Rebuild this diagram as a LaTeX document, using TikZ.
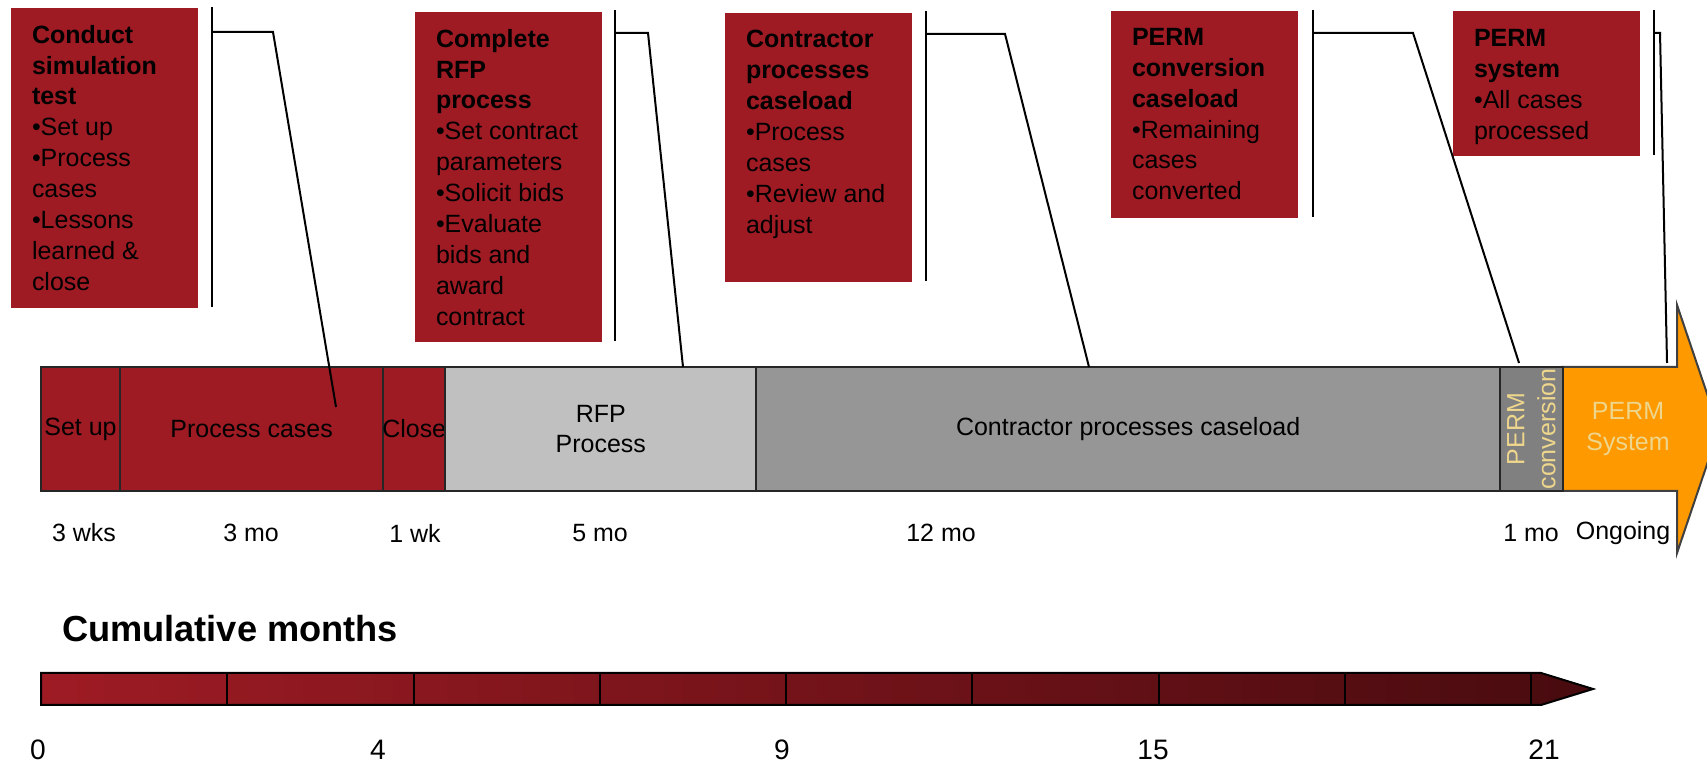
\documentclass[tikz,border=0pt]{standalone}
\usepackage{fontspec}
\setmainfont{Liberation Sans}
\usepackage{tikz}
\usetikzlibrary{positioning}

\definecolor{boxred}{RGB}{158,27,36}
\definecolor{darkred}{RGB}{72,11,15}
\definecolor{rfpgray}{RGB}{192,192,192}
\definecolor{contgray}{RGB}{150,150,150}
\definecolor{convgray}{RGB}{128,128,128}
\definecolor{permorange}{RGB}{255,153,0}
\definecolor{permtan}{RGB}{238,214,140}

\begin{document}
\begin{tikzpicture}[x=0.01cm, y=-0.01cm, line width=0.02cm,
    callout/.style={fill=boxred, minimum width=1.87cm, anchor=north west, inner sep=0pt},
    callouttext/.style={anchor=north west, align=left, inner sep=0pt, font=\fontsize{7.1}{8.8}\selectfont},
    seg/.style={draw=black!85, minimum height=1.24cm, inner sep=0pt, outer sep=0pt, anchor=north west, align=center, font=\fontsize{7.1}{8.8}\selectfont},
    dur/.style={inner sep=0pt, font=\fontsize{7.1}{8.8}\selectfont},
    month/.style={inner sep=0pt, font=\fontsize{8}{9.6}\selectfont}]
            \useasboundingbox (0,0) rectangle (1707,765);

            % Callout boxes
            \node[callout, minimum height=3.00cm] (b1) at (10,7) {};
            \node[callouttext] (t1) at (31,24) {\textbf{Conduct}\\\textbf{simulation}\\\textbf{test}\\•Set up\\•Process\\cases\\•Lessons\\learned \&\\close};
            \node[callout, minimum height=3.30cm] (b2) at (414,11) {};
            \node[callouttext] (t2) at (435,28) {\textbf{Complete}\\\textbf{RFP}\\\textbf{process}\\•Set contract\\parameters\\•Solicit bids\\•Evaluate\\bids and\\award\\contract};
            \node[callout, minimum height=2.69cm] (b3) at (724,12) {};
            \node[callouttext] (t3) at (745,29) {\textbf{Contractor}\\\textbf{processes}\\\textbf{caseload}\\•Process\\cases\\•Review and\\adjust};
            \node[callout, minimum height=2.07cm] (b4) at (1110,10) {};
            \node[callouttext] (t4) at (1131,27) {\textbf{PERM}\\\textbf{conversion}\\\textbf{caseload}\\•Remaining\\cases\\converted};
            \node[callout, minimum height=1.45cm] (b5) at (1452,10) {};
            \node[callouttext] (t5) at (1473,28) {\textbf{PERM}\\\textbf{system}\\•All cases\\processed};

            % Timeline bar
            \filldraw[fill=permorange, draw=black!75] (1562,367) -- (1677,367) -- (1677,305) -- (1719,429) -- (1677,553) -- (1677,491) -- (1562,491) -- cycle;
            \node[seg, fill=boxred, minimum width=0.79cm] (setup) at (41,367) {Set up};
            \node[seg, fill=boxred, minimum width=2.63cm, right=0pt of setup] (proc) {Process cases};
            \node[seg, fill=boxred, minimum width=0.62cm, right=0pt of proc] (close) {\makebox[0pt]{Close}};
            \node[seg, fill=rfpgray, minimum width=3.11cm, right=0pt of close] (rfp) {RFP\\Process};
            \node[seg, fill=contgray, minimum width=7.43cm, right=0pt of rfp] (cont) {Contractor processes caseload};
            \node[seg, fill=convgray, minimum width=0.63cm, right=0pt of cont] (conv) {};
            \node[rotate=90, align=center, inner sep=0pt, text=permtan, font=\fontsize{7.1}{8.8}\selectfont] (convtext) at (conv.center) {PERM\\conversion};
            \node[align=center, inner sep=0pt, text=permtan, font=\fontsize{7.1}{8.8}\selectfont] (sys) at (1628,429) {PERM\\System};

            % Callout lines
            \coordinate (v1a) at (212,7);   \coordinate (v1b) at (212,307);
            \coordinate (h1) at (212,32);   \coordinate (e1) at (273,32);   \coordinate (p1) at (336,407);
            \coordinate (v2a) at (615,10);  \coordinate (v2b) at (615,341);
            \coordinate (h2) at (615,33);   \coordinate (e2) at (648,33);   \coordinate (p2) at (683,367);
            \coordinate (v3a) at (926,11);  \coordinate (v3b) at (926,281);
            \coordinate (h3) at (926,34);   \coordinate (e3) at (1005,34);  \coordinate (p3) at (1089,367);
            \coordinate (v4a) at (1313,10); \coordinate (v4b) at (1313,217);
            \coordinate (h4) at (1313,33);  \coordinate (e4) at (1413,33);  \coordinate (p4) at (1519,363);
            \coordinate (v5a) at (1654,10); \coordinate (v5b) at (1654,155);
            \coordinate (h5) at (1654,33);  \coordinate (e5) at (1660,33);  \coordinate (p5) at (1667,363);
            \foreach \i in {1,...,5} {
                \draw (v\i a) -- (v\i b);
                \draw (h\i) -- (e\i) -- (p\i);
            }

            % Durations
            \node[dur] (d1) at (84,533) {3 wks};
            \node[dur] (d2) at (251,533) {3 mo};
            \node[dur] (d3) at (415,533) {1 wk};
            \node[dur] (d4) at (600,533) {5 mo};
            \node[dur] (d5) at (941,533) {12 mo};
            \node[dur] (d6) at (1531,533) {1 mo};
            \node[dur] (d7) at (1623,533) {Ongoing};

            % Cumulative months
            \node[anchor=west, inner sep=0pt, font=\fontsize{10.3}{12}\selectfont\bfseries] (cumtitle) at (61,629) {Cumulative months};
            \shadedraw[left color=boxred, right color=darkred, draw=black] (41,673) -- (1541,673) -- (1593,689) -- (1541,705) -- (41,705) -- cycle;
            \foreach \i in {1,...,8}
                \draw ({41+186.25*\i},673) -- ++(0,32);
            \node[month] (m0) at (38,750) {0};
            \node[month] (m4) at (378,750) {4};
            \node[month] (m9) at (782,750) {9};
            \node[month] (m15) at (1153,750) {15};
            \node[month] (m21) at (1544,750) {21};

        \end{tikzpicture}
\end{document}
